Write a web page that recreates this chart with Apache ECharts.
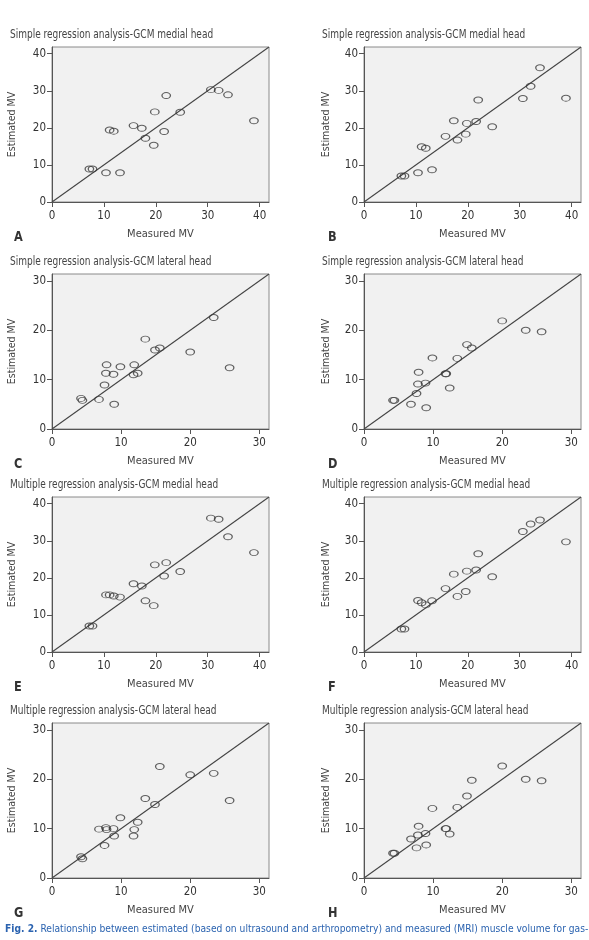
<!DOCTYPE html>
<html><head><meta charset="utf-8">
<script src="https://cdn.jsdelivr.net/npm/echarts@6/dist/echarts.min.js"></script>
<style>html,body{margin:0;padding:0;background:#fff}#c{width:589px;height:940px}</style>
</head><body><div id="c"></div>
<script>
// Measured MV (MRI) – same subjects across panels
const medialMeasured = [7.2, 7.8, 10.4, 13.1, 11.1, 11.9, 15.7, 17.3, 18.0, 19.6, 19.8, 21.6, 22.0, 24.7, 30.6, 32.1, 33.9, 38.9];
const lateralMeasured = [4.2, 4.4, 6.8, 7.6, 7.8, 7.9, 8.9, 9.0, 9.9, 11.8, 11.9, 12.4, 13.5, 14.9, 15.6, 20.0, 23.4, 25.7];
// Estimated MV per panel
const estA = [8.9, 8.9, 7.9, 7.9, 19.4, 19.1, 20.6, 19.9, 17.2, 15.3, 24.3, 19.0, 28.7, 24.2, 30.3, 30.1, 28.9, 21.9];
const estB = [7.0, 7.0, 7.9, 8.7, 14.9, 14.5, 17.7, 21.9, 16.7, 18.3, 21.2, 21.7, 27.5, 20.3, 27.9, 31.2, 36.2, 28.0];
const estC = [6.2, 5.8, 6.0, 8.9, 11.3, 13.0, 11.1, 5.0, 12.6, 11.0, 13.0, 11.3, 18.2, 16.0, 16.4, 15.6, 22.6, 12.4];
const estD = [5.8, 5.8, 5.0, 7.2, 9.1, 11.5, 9.3, 4.3, 14.4, 11.2, 11.2, 8.3, 14.3, 17.1, 16.4, 21.9, 20.0, 19.7];
const estE = [7.0, 7.0, 15.4, 14.8, 15.4, 15.1, 18.4, 17.8, 13.8, 12.5, 23.5, 20.5, 24.1, 21.7, 36.1, 35.8, 31.1, 26.8];
const estF = [6.2, 6.2, 13.9, 13.8, 13.3, 12.7, 17.1, 21.0, 15.0, 16.3, 21.8, 22.1, 26.5, 20.3, 32.5, 34.5, 35.6, 29.7];
const estG = [4.3, 3.9, 9.9, 6.6, 10.2, 9.8, 10.0, 8.5, 12.2, 8.5, 9.8, 11.3, 16.1, 14.9, 22.6, 20.9, 21.2, 15.7];
const estH = [5.0, 5.0, 7.9, 6.1, 8.7, 10.5, 9.0, 6.7, 14.1, 10.0, 10.0, 8.9, 14.3, 16.6, 19.8, 22.7, 20.0, 19.7];
// Axis ticks and ranges
const medialTicks = [0, 10, 20, 30, 40];
const lateralTicks = [0, 10, 20, 30];
const medialMax = 41.8;
const lateralMax = 31.4;
// Panel texts
const panelTitles = [
  'Simple regression analysis-GCM medial head', 'Simple regression analysis-GCM medial head',
  'Simple regression analysis-GCM lateral head', 'Simple regression analysis-GCM lateral head',
  'Multiple regression analysis-GCM medial head', 'Multiple regression analysis-GCM medial head',
  'Multiple regression analysis-GCM lateral head', 'Multiple regression analysis-GCM lateral head'
];
const panelLetters = ['A', 'B', 'C', 'D', 'E', 'F', 'G', 'H'];
const xName = 'Measured MV';
const yName = 'Estimated MV';
const captionBold = 'Fig. 2.';
const captionText = 'Relationship between estimated (based on ultrasound and arthropometry) and measured (MRI) muscle volume for gas-';

const panels = [
  {meas: medialMeasured, est: estA, ticks: medialTicks, max: medialMax},
  {meas: medialMeasured, est: estB, ticks: medialTicks, max: medialMax},
  {meas: lateralMeasured, est: estC, ticks: lateralTicks, max: lateralMax},
  {meas: lateralMeasured, est: estD, ticks: lateralTicks, max: lateralMax},
  {meas: medialMeasured, est: estE, ticks: medialTicks, max: medialMax},
  {meas: medialMeasured, est: estF, ticks: medialTicks, max: medialMax},
  {meas: lateralMeasured, est: estG, ticks: lateralTicks, max: lateralMax},
  {meas: lateralMeasured, est: estH, ticks: lateralTicks, max: lateralMax}
];

const FONT = "'DejaVu Sans Condensed', 'Liberation Sans Narrow', sans-serif";
const lefts = [52, 364];
const tops = [47, 274, 497, 723];
const gw = 217, gh = 155;
const titleLeft = [10, 322];
const letterLeft = [14, 328];

const grid = [], xAxis = [], yAxis = [], series = [], graphic = [];
panels.forEach((p, i) => {
  const col = i % 2, row = Math.floor(i / 2);
  grid.push({left: lefts[col], top: tops[row], width: gw, height: gh,
    show: true, backgroundColor: '#f1f1f1', borderColor: '#8a8a8a', borderWidth: 1});
  const axisCommon = {
    type: 'value', min: 0, max: p.max, gridIndex: i,
    splitLine: {show: false},
    axisLine: {show: true, onZero: false, lineStyle: {color: '#555', width: 1}},
    axisTick: {show: true, length: 5, customValues: p.ticks, lineStyle: {color: '#555'}},
    nameLocation: 'middle'
  };
  xAxis.push(Object.assign({}, axisCommon, {name: xName, nameGap: 27,
    nameTextStyle: {color: '#444', fontSize: 11, fontFamily: FONT},
    axisLabel: {customValues: p.ticks, color: '#333', fontSize: 11.5, fontFamily: FONT, margin: 8}}));
  yAxis.push(Object.assign({}, axisCommon, {name: yName, nameGap: col === 0 ? 34 : 32,
    nameTextStyle: {color: '#444', fontSize: 10.5, fontFamily: FONT},
    axisLabel: {customValues: p.ticks, color: '#333', fontSize: 11.5, fontFamily: FONT, margin: 6}}));
  series.push({
    type: 'line', xAxisIndex: i, yAxisIndex: i, silent: true,
    data: [[0, 0], [p.max, p.max]], symbol: 'none',
    lineStyle: {color: '#444', width: 1.1}, z: 2
  });
  series.push({
    type: 'scatter', xAxisIndex: i, yAxisIndex: i, silent: true,
    data: p.meas.map((m, k) => [m, p.est[k]]),
    symbol: 'circle', symbolSize: [8.5, 6],
    itemStyle: {color: 'rgba(0,0,0,0)', borderColor: '#3a3a3a', borderWidth: 1.1}, z: 3
  });
  graphic.push({type: 'text', x: titleLeft[col], y: tops[row] - 12, scaleX: 0.87, silent: true,
    style: {text: panelTitles[i], fill: '#444', fontSize: 11.5, fontFamily: FONT,
      align: 'left', verticalAlign: 'middle'}});
  graphic.push({type: 'text', x: letterLeft[col], y: tops[row] + gh + 35, scaleX: 0.9, silent: true,
    style: {text: panelLetters[i], fill: '#333', fontSize: 14, fontWeight: 'bold', fontFamily: FONT,
      align: 'left', verticalAlign: 'middle'}});
});
graphic.push({type: 'text', x: 5, y: 929, scaleX: 0.97, silent: true,
  style: {text: '{b|' + captionBold + '} ' + captionText, fill: '#2b63b0', fontSize: 10.5,
    fontFamily: FONT, fontWeight: 'normal', align: 'left', verticalAlign: 'middle',
    rich: {b: {fill: '#2b63b0', fontSize: 10.5, fontWeight: 'bold', fontFamily: FONT}}}});

const chart = echarts.init(document.getElementById('c'), null, {renderer: 'canvas'});
chart.setOption({animation: false, backgroundColor: '#fff', graphic, grid, xAxis, yAxis, series});
</script></body></html>
